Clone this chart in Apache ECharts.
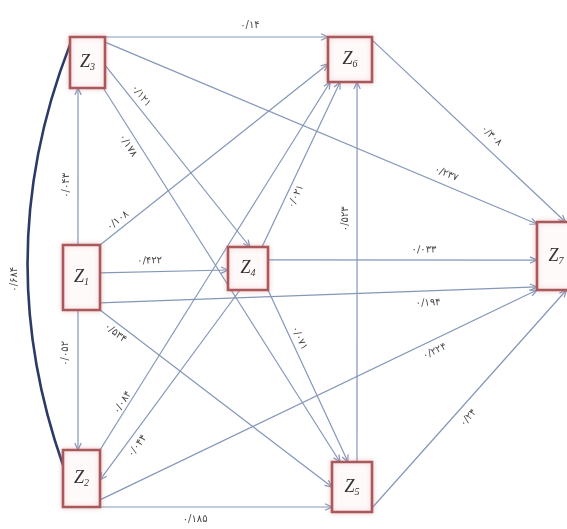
<!DOCTYPE html>
<html><head><meta charset="utf-8">
<script src="https://cdn.jsdelivr.net/npm/echarts@6/dist/echarts.min.js"></script>
<style>html,body{margin:0;padding:0;background:#fff}#c{width:567px;height:529px}</style>
</head><body><div id="c"></div>
<script>
// ---------- data ----------
const nodeNames = ['Z1', 'Z2', 'Z3', 'Z4', 'Z5', 'Z6', 'Z7'];
const edgeSources = ['Z3','Z3','Z6','Z3','Z3','Z1','Z1','Z1','Z1','Z1','Z1','Z4','Z4','Z4','Z5','Z2','Z4','Z2','Z2','Z5'];
const edgeTargets = ['Z6','Z7','Z7','Z4','Z5','Z3','Z2','Z6','Z4','Z7','Z5','Z7','Z6','Z5','Z6','Z6','Z2','Z7','Z5','Z7'];
const edgeCoefficients = ['۰/۱۴','۰/۲۳۷','۰/۳۰۸','۰/۱۲۱','۰/۱۷۸','۰/۰۴۳','۰/۰۵۲','۰/۱۰۸','۰/۴۲۲','۰/۱۹۴',
                          '۰/۵۳۴','۰/۰۳۳','۰/۰۲۱','۰/۰۷۱','۰/۵۲۳','۰/۰۸۴','۰/۰۴۴','۰/۲۲۴','۰/۱۸۵','۰/۲۴'];
const correlationPair = ['Z3', 'Z2'];
const correlationValue = '۰/۶۸۴';

// ---------- layout (positions / sizes, diagram units) ----------
const nodeLayout = {
  Z3: {x: 87.5, y: 62.5, w: 35, h: 51},
  Z6: {x: 350, y: 59.5, w: 44, h: 45},
  Z1: {x: 81.5, y: 277.5, w: 37, h: 65},
  Z4: {x: 248, y: 268.5, w: 40, h: 43},
  Z7: {x: 556, y: 256, w: 38, h: 68},
  Z2: {x: 81.5, y: 478.5, w: 37, h: 57},
  Z5: {x: 352, y: 487, w: 40, h: 50}
};
// s/t: anchor on source/target box (fraction of half width/height); at: label position along edge; off: label offset (+ above/left)
const edgeLayout = [
  {s:[1,-1], t:[-1,-1], at:0.65, off:12},
  {s:[1,-0.8], t:[-1,-0.94], at:0.78, off:11},
  {s:[1,-0.87], t:[0.5,-1], at:0.575, off:12},
  {s:[1,0.1], t:[0.1,-1], at:0.2, off:9},
  {s:[0.9,1], t:[-0.6,-1], at:0.14, off:-10},
  {s:[-0.19,-1], t:[-0.54,1], at:0.38, off:12},
  {s:[-0.19,1], t:[-0.19,-1], at:0.31, off:13},
  {s:[1,-1], t:[-1,0.2], at:0.1, off:8},
  {s:[1,-0.14], t:[-1,0.07], at:0.39, off:11},
  {s:[1,0.78], t:[-1,0.91], at:0.75, off:-12},
  {s:[1,1], t:[-1,0], at:0.09, off:-9},
  {s:[1,-0.4], t:[-1,0.12], at:0.58, off:10},
  {s:[0.7,-1], t:[-0.45,1], at:0.33, off:-9},
  {s:[1,1], t:[-0.2,-1], at:0.3, off:8},
  {s:[0.25,-1], t:[0.32,1], at:0.64, off:12},
  {s:[1,-1], t:[-0.9,1], at:0.12, off:6},
  {s:[-0.4,1], t:[1,0.05], at:0.79, off:-10},
  {s:[1,0.75], t:[-1,1], at:0.755, off:-11},
  {s:[1,1], t:[-1,0.8], at:0.41, off:-12},
  {s:[1,0.84], t:[0.55,1], at:0.45, off:-12}
];
const corrLayout = {s:[-1,-0.7], t:[-1,-0.47], curveness:-0.185, labelDx:-13, labelDy:25};

// ---------- styles ----------
const EDGE_COLOR = '#8597b9';
const BOX_COLOR = '#a9595b';
const LABEL_FONT = '10px "DejaVu Sans"';

function anchor(name, a) {
  const n = nodeLayout[name];
  return [n.x + a[0] * n.w / 2, n.y + a[1] * n.h / 2];
}
const edgeData = edgeSources.map((s, i) => {
  const L = edgeLayout[i];
  const p = anchor(s, L.s), q = anchor(edgeTargets[i], L.t);
  return [p[0], p[1], q[0], q[1], i];
});
const nodeData = nodeNames.map((n, i) => {
  const L = nodeLayout[n];
  return [L.x, L.y, L.w, L.h, i];
});
const cp1 = anchor(correlationPair[0], corrLayout.s), cp2 = anchor(correlationPair[1], corrLayout.t);
const corrData = [[cp1[0], cp1[1], cp2[0], cp2[1]]];

function renderEdge(params, api) {
  const i = api.value(4);
  const p = api.coord([api.value(0), api.value(1)]);
  const q = api.coord([api.value(2), api.value(3)]);
  const L = edgeLayout[i];
  const dx = q[0] - p[0], dy = q[1] - p[1], len = Math.hypot(dx, dy);
  const ux = dx / len, uy = dy / len;
  const al = 7, aw = 3.2;
  const bx = q[0] - ux * al, by = q[1] - uy * al;
  let nx = uy, ny = -ux;
  if (ny > 1e-6 || (Math.abs(ny) <= 1e-6 && nx > 0)) { nx = -nx; ny = -ny; }
  const mx = p[0] + dx * L.at + nx * L.off, my = p[1] + dy * L.at + ny * L.off;
  let rot = -Math.atan2(dy, dx);
  while (rot > Math.PI / 2 + 1e-6) rot -= Math.PI;
  while (rot <= -Math.PI / 2 + 1e-6) rot += Math.PI;
  return {
    type: 'group',
    children: [
      {type: 'line', shape: {x1: p[0], y1: p[1], x2: q[0], y2: q[1]},
       style: {stroke: EDGE_COLOR, lineWidth: 1.2}},
      {type: 'polyline', shape: {points: [[bx - uy * aw, by + ux * aw], [q[0], q[1]], [bx + uy * aw, by - ux * aw]]},
       style: {stroke: EDGE_COLOR, lineWidth: 1.2, fill: null}},
      {type: 'text', x: mx, y: my, rotation: rot,
       style: {text: edgeCoefficients[i], fill: '#474747', font: LABEL_FONT, align: 'center', verticalAlign: 'middle'}}
    ]
  };
}

function renderCorr(params, api) {
  const p = api.coord([api.value(0), api.value(1)]);
  const q = api.coord([api.value(2), api.value(3)]);
  const c = corrLayout.curveness;
  const cx = (p[0] + q[0]) / 2 - (p[1] - q[1]) * c;
  const cy = (p[1] + q[1]) / 2 - (q[0] - p[0]) * c;
  const t = 0.5;
  const bxp = (1 - t) * (1 - t) * p[0] + 2 * t * (1 - t) * cx + t * t * q[0];
  const byp = (1 - t) * (1 - t) * p[1] + 2 * t * (1 - t) * cy + t * t * q[1];
  return {
    type: 'group',
    children: [
      {type: 'bezierCurve', shape: {x1: p[0], y1: p[1], x2: q[0], y2: q[1], cpx1: cx, cpy1: cy},
       style: {stroke: '#2c3b66', lineWidth: 2.6, fill: null}},
      {type: 'text', x: bxp + corrLayout.labelDx, y: byp + corrLayout.labelDy, rotation: Math.PI / 2,
       style: {text: correlationValue, fill: '#474747', font: LABEL_FONT, align: 'center', verticalAlign: 'middle'}}
    ]
  };
}

function renderNode(params, api) {
  const i = api.value(4);
  const c = api.coord([api.value(0), api.value(1)]);
  const sz = api.size([api.value(2), api.value(3)]);
  const w = sz[0], h = sz[1];
  const name = nodeNames[i];
  return {
    type: 'group',
    children: [
      {type: 'rect', shape: {x: c[0] - w / 2, y: c[1] - h / 2, width: w, height: h},
       style: {fill: '#fffafa', stroke: BOX_COLOR, lineWidth: 2.6,
               shadowBlur: 5, shadowColor: 'rgba(210,120,120,0.35)'}},
      {type: 'text', x: c[0], y: c[1],
       style: {text: '{z|' + name.charAt(0) + '}{s|' + name.slice(1) + '}',
               align: 'center', verticalAlign: 'middle',
               rich: {
                 z: {font: 'italic 18px "Liberation Serif"', fill: '#333', lineHeight: 22},
                 s: {font: 'italic 10px "Liberation Serif"', fill: '#333', padding: [10, 0, 0, 0]}
               }}}
    ]
  };
}

const chart = echarts.init(document.getElementById('c'));
chart.setOption({
  animation: false,
  backgroundColor: '#ffffff',
  grid: {left: 0, right: 0, top: 0, bottom: 0},
  xAxis: {type: 'value', min: 0, max: 567, show: false},
  yAxis: {type: 'value', min: 0, max: 529, inverse: true, show: false},
  series: [
    {type: 'custom', renderItem: renderEdge, data: edgeData, encode: {x: [0, 2], y: [1, 3]}, z: 2, silent: true},
    {type: 'custom', renderItem: renderCorr, data: corrData, encode: {x: [0, 2], y: [1, 3]}, z: 2, silent: true},
    {type: 'custom', renderItem: renderNode, data: nodeData, encode: {x: 0, y: 1}, z: 3, silent: true}
  ]
});
</script>
</body></html>
